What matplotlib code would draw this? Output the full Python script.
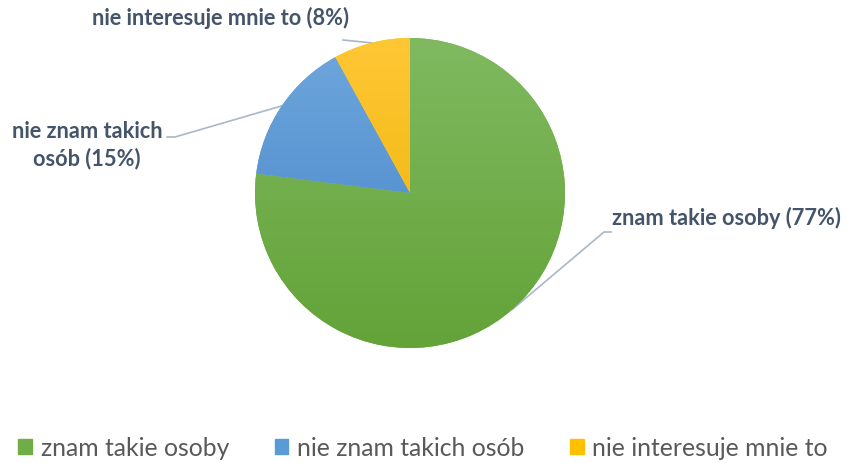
import matplotlib.pyplot as plt
import numpy as np
from matplotlib.colors import LinearSegmentedColormap
from matplotlib.patches import Patch

categories = ['znam takie osoby', 'nie znam takich osób', 'nie interesuje mnie to']
shares = [77, 15, 8]
slice_labels = ['znam takie osoby (77%)', 'nie znam takich\nosób (15%)', 'nie interesuje mnie to (8%)']

top_colors = ['#80b960', '#6fa7dc', '#ffc735']
bottom_colors = ['#63a338', '#4382c9', '#ebb000']
solid_colors = ['#70ad47', '#5b9bd5', '#ffc000']

plt.rcParams['font.family'] = ['Lato', 'DejaVu Sans']
label_color = '#44546a'
line_color = '#a9b7c9'

fig = plt.figure(figsize=(8.46, 4.63), dpi=100)
ax = fig.add_axes([0, 0, 1, 1])

cx, cy, r = 410, 270, 155
wedges, _ = ax.pie(shares, center=(cx, cy), radius=r, startangle=90,
                   counterclock=False, colors=solid_colors,
                   wedgeprops=dict(linewidth=0))

# vertical gradient fill inside each slice
grad = np.linspace(0, 1, 256).reshape(-1, 1)
for w, c0, c1 in zip(wedges, bottom_colors, top_colors):
    cmap = LinearSegmentedColormap.from_list('g', [c0, c1])
    im = ax.imshow(grad, cmap=cmap, origin='lower', aspect='auto',
                   extent=[cx - r, cx + r, cy - r, cy + r], zorder=2)
    im.set_clip_path(w)

# label positions (text anchor, elbow point)
label_pos = [
    dict(xy=(612, 245), ha='left', elbow=[(611, 231), (604, 231)]),
    dict(xy=(87, 318), ha='center', elbow=[(167, 326), (175, 326)]),
    dict(xy=(220, 445), ha='center', elbow=[(343, 423)]),
]

for w, lab, p in zip(wedges, slice_labels, label_pos):
    mid = np.deg2rad((w.theta1 + w.theta2) / 2)
    ex = cx + r * np.cos(mid)
    ey = cy + r * np.sin(mid)
    pts = p['elbow'] + [(ex, ey)]
    ax.plot([q[0] for q in pts], [q[1] for q in pts], color=line_color,
            lw=1.2, zorder=1)
    ax.text(p['xy'][0], p['xy'][1], lab, ha=p['ha'], va='center',
            fontsize=15.7, fontweight='bold', color=label_color,
            linespacing=1.3)

ax.set_xlim(0, 846)
ax.set_ylim(0, 463)
ax.set_aspect('equal')
ax.axis('off')

handles = [Patch(color=c) for c in solid_colors]
fig.legend(handles, categories, loc='center', bbox_to_anchor=(0.5, 15 / 463),
           ncol=3, frameon=False, fontsize=17.8, handlelength=0.55,
           handleheight=0.55, columnspacing=1.85, handletextpad=0.35,
           labelcolor='#595959')

fig.savefig('out.png', dpi=100)
